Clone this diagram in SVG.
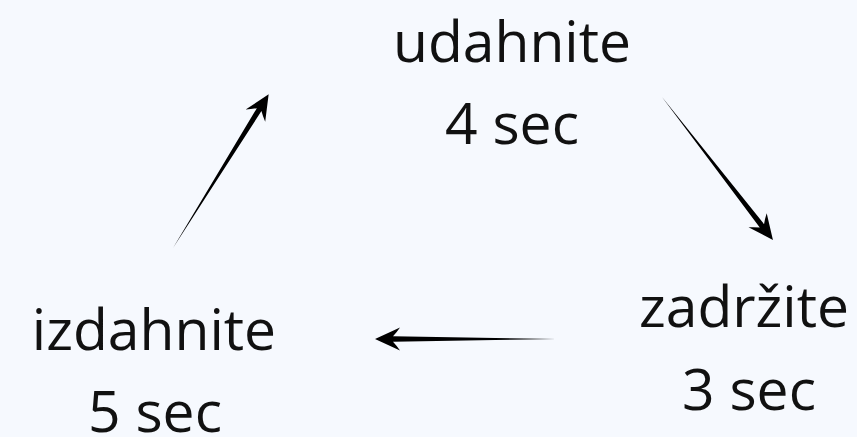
<svg xmlns="http://www.w3.org/2000/svg" width="857" height="437" viewBox="0 0 857 437">
<style>
.t{font-family:"Open Sans","Noto Sans",sans-serif;font-size:57px;fill:#111;text-anchor:middle}
.a{fill:#000}
</style>
<defs>
<path id="arr" d="M0,0 L163,-2.7 Q159,-7 156,-11.5 L181,0 L156,11.5 Q159,7 163,2.7 Z"/>
</defs>
<rect width="857" height="437" fill="#f6f9fe"/>
<g id="n-inhale"><text class="t" x="512" y="62">udahnite</text><text class="t" x="512" y="144">4 sec</text></g>
<g id="n-hold"><text class="t" x="744" y="327">zadržite</text><text class="t" x="749" y="410">3 sec</text></g>
<g id="n-exhale"><text class="t" x="154" y="350">izdahnite</text><text class="t" x="155" y="432">5 sec</text></g>
<g id="connectors">
<use href="#arr" class="a" transform="translate(173,248) rotate(-58.1)"/>
<use href="#arr" class="a" transform="translate(662,97) rotate(52.2)"/>
<use href="#arr" class="a" transform="translate(556,339) rotate(180)"/>
</g>
</svg>
